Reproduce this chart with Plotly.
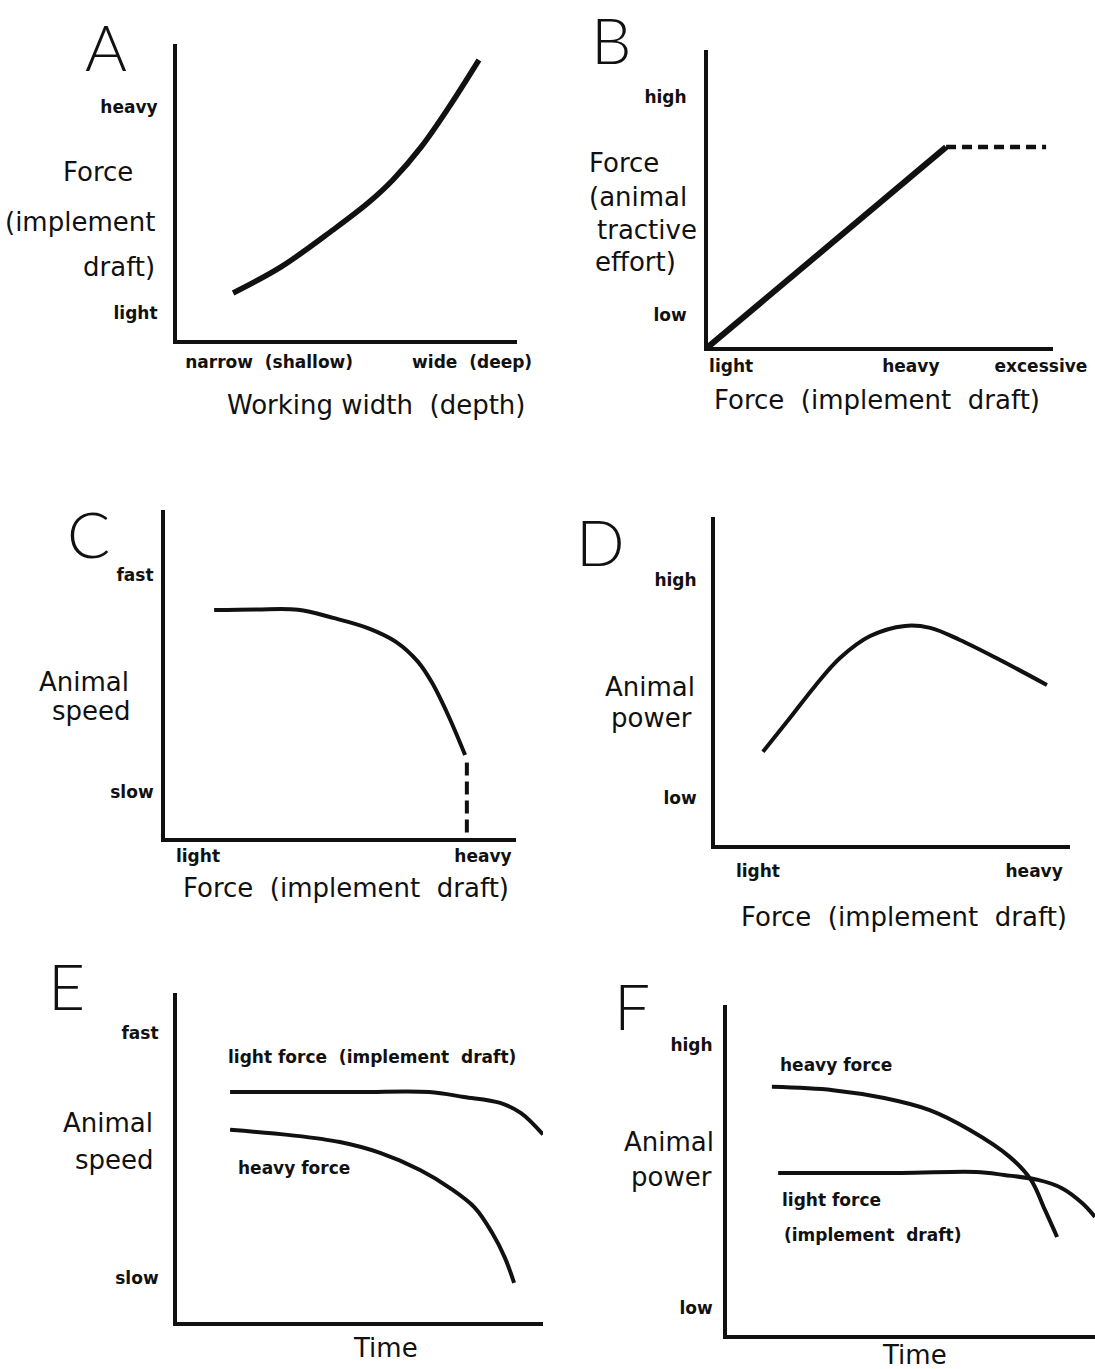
import plotly.graph_objects as go

W, H = 1095, 1369

# ---------------- data (axis units 0..10 on both axes) ----------------
# A: Force (implement draft) vs working width
a_x = [1.65, 3.06, 4.59, 5.62, 6.35, 7.18, 8.0, 8.88]
a_y = [1.59, 2.47, 3.72, 4.63, 5.41, 6.52, 7.87, 9.46]
a_xtick_vals = [2.71, 8.68]
a_xtick_text = ["narrow  (shallow)", "wide  (deep)"]
a_ytick_vals = [0.91, 7.87]
a_ytick_text = ["light", "heavy"]

# B: animal tractive effort vs implement draft
b_x = [0.0, 6.9]
b_y = [0.0, 6.73]
b_dash_x = [6.9, 9.8]
b_dash_y = [6.73, 6.73]
b_xtick_vals = [0.67, 5.88, 9.65]
b_xtick_text = ["light", "heavy", "excessive"]
b_ytick_vals = [1.08, 8.42]
b_ytick_text = ["low", "high"]

# C: animal speed vs implement draft
c_x = [1.4, 2.6, 3.79, 4.79, 5.78, 6.58, 7.21, 7.61, 8.09, 8.55]
c_y = [6.95, 6.97, 6.96, 6.71, 6.4, 5.98, 5.37, 4.73, 3.69, 2.53]
c_dash_x = [8.6, 8.6]
c_dash_y = [2.3, 0.0]
c_xtick_vals = [0.94, 9.06]
c_xtick_text = ["light", "heavy"]
c_ytick_vals = [1.4, 8.02]
c_ytick_text = ["slow", "fast"]

# D: animal power vs implement draft
d_x = [1.35, 2.11, 2.82, 3.52, 4.37, 5.35, 6.06, 6.9, 8.03, 9.35]
d_y = [2.84, 3.87, 4.85, 5.7, 6.37, 6.68, 6.62, 6.25, 5.64, 4.88]
d_xtick_vals = [1.21, 8.99]
d_xtick_text = ["light", "heavy"]
d_ytick_vals = [1.43, 8.08]
d_ytick_text = ["low", "high"]

# E: animal speed vs time
e_light_x = [1.45, 4.92, 6.89, 7.84, 8.83, 9.4, 10.0]
e_light_y = [6.99, 6.99, 6.99, 6.84, 6.66, 6.35, 5.7]
e_heavy_x = [1.45, 3.09, 4.45, 5.55, 6.64, 7.46, 8.14, 8.61, 8.96, 9.21]
e_heavy_y = [5.84, 5.68, 5.47, 5.14, 4.62, 4.07, 3.47, 2.71, 1.95, 1.19]
e_ytick_vals = [1.34, 8.78]
e_ytick_text = ["slow", "fast"]

# F: animal power vs time
f_heavy_x = [1.22, 2.88, 4.27, 5.49, 6.6, 7.69, 8.26, 8.64, 8.97]
f_heavy_y = [7.52, 7.42, 7.18, 6.82, 6.21, 5.39, 4.7, 3.79, 2.97]
f_light_x = [1.39, 4.73, 6.77, 7.53, 8.45, 9.1, 9.65, 10.0]
f_light_y = [4.91, 4.91, 4.94, 4.85, 4.7, 4.45, 4.0, 3.58]
f_ytick_vals = [0.82, 8.79]
f_ytick_text = ["low", "high"]

# ---------------- layout helpers ----------------
FONT = "DejaVu Sans, Verdana, sans-serif"
INK = "#111111"

fig = go.Figure()
layout = dict(
    width=W, height=H, margin=dict(l=0, r=0, t=0, b=0, pad=0), autosize=False,
    paper_bgcolor="white", plot_bgcolor="white", showlegend=False,
    annotations=[],
)


def px(x):
    return x / W


def py(y):
    return 1 - y / H


def add_panel(i, box, xt, yt, xstand, ystand):
    x0, x1, ytop, ybot = box
    sx = "" if i == 1 else str(i)
    tickfont = dict(family=FONT, size=17, color=INK, weight="bold")
    common = dict(range=[0, 10], showline=True, linewidth=4, linecolor=INK,
                  showgrid=False, zeroline=False, ticks="", fixedrange=True,
                  tickfont=tickfont, automargin=False)
    xa = dict(domain=[px(x0), px(x1)], anchor="y" + sx, **common)
    ya = dict(domain=[py(ybot), py(ytop)], anchor="x" + sx, **common)
    if xt is not None:
        xa.update(tickvals=xt[0], ticktext=xt[1], ticklabelstandoff=xstand)
    else:
        xa.update(showticklabels=False)
    if yt is not None:
        ya.update(tickvals=yt[0], ticktext=yt[1], ticklabelstandoff=ystand)
    else:
        ya.update(showticklabels=False)
    layout["xaxis" + sx] = xa
    layout["yaxis" + sx] = ya
    return "x" + sx, "y" + sx


def line(xs, ys, xr, yr, width=4, dash="solid", shape="spline"):
    fig.add_trace(go.Scatter(x=xs, y=ys, xaxis=xr, yaxis=yr, mode="lines",
                             line=dict(color=INK, width=width, dash=dash,
                                       shape=shape, smoothing=1.0),
                             hoverinfo="skip"))


def ann(text, x, y, size=26, bold=False, xanchor="center", xref="paper",
        yref="paper", family=FONT, weight=None):
    if xref == "paper":
        x = px(x)
    if yref == "paper":
        y = py(y)
    f = dict(family=family, size=size, color=INK)
    if bold:
        f["weight"] = "bold"
    if weight is not None:
        f["weight"] = weight
    layout["annotations"].append(dict(text=text, x=x, y=y, xref=xref, yref=yref,
                                      xanchor=xanchor, yanchor="middle",
                                      showarrow=False, font=f))


def letter(t, x, y):
    ann(t, x, y, size=64, family="Lato, Roboto, sans-serif", weight=300)


# Panel A
xa, ya = add_panel(1, (177, 517, 44, 340), (a_xtick_vals, a_xtick_text),
                   (a_ytick_vals, a_ytick_text), 4, 12)
line(a_x, a_y, xa, ya, width=5.5)
letter("A", 106, 46)
ann("Force", 135, 172, xanchor="right")
ann("(implement", 157, 222, xanchor="right")
ann("draft)", 157, 267, xanchor="right")
ann("Working width  (depth)", 376, 405)

# Panel B
xa, ya = add_panel(2, (708, 1053, 50, 347), (b_xtick_vals, b_xtick_text),
                   (b_ytick_vals, b_ytick_text), 1, 14)
line(b_x, b_y, xa, ya, width=6, shape="linear")
line(b_dash_x, b_dash_y, xa, ya, width=4.5, dash="10px,6px", shape="linear")
letter("B", 611, 40)
ann("Force", 587, 163, xanchor="left")
ann("(animal", 587, 197, xanchor="left")
ann("tractive", 595, 230, xanchor="left")
ann("effort)", 593, 262, xanchor="left")
ann("Force  (implement  draft)", 877, 400)

# Panel C
xa, ya = add_panel(3, (165, 516, 510, 838), (c_xtick_vals, c_xtick_text),
                   (c_ytick_vals, c_ytick_text), 0, 4)
line(c_x, c_y, xa, ya, width=4)
line(c_dash_x, c_dash_y, xa, ya, width=4, dash="13px,6px", shape="linear")
letter("C", 88, 534)
ann("Animal", 84, 682)
ann("speed", 91, 711)
ann("Force  (implement  draft)", 346, 888)

# Panel D
xa, ya = add_panel(4, (715, 1070, 517, 845), (d_xtick_vals, d_xtick_text),
                   (d_ytick_vals, d_ytick_text), 8, 11)
line(d_x, d_y, xa, ya, width=4)
letter("D", 600, 541)
ann("Animal", 650, 687)
ann("power", 651, 718)
ann("Force  (implement  draft)", 904, 917)

# Panel E
xa, ya = add_panel(5, (177, 543, 993, 1322), None,
                   (e_ytick_vals, e_ytick_text), 0, 11)
line(e_light_x, e_light_y, xa, ya, width=4)
line(e_heavy_x, e_heavy_y, xa, ya, width=4)
ann("light force  (implement  draft)", 5.33, 8.05, size=17, bold=True,
    xref=xa, yref=ya)
ann("heavy force", 3.2, 4.68, size=17, bold=True, xref=xa, yref=ya)
letter("E", 66, 985)
ann("Animal", 108, 1123)
ann("speed", 114, 1160)
ann("Time", 385, 1348)

# Panel F
xa, ya = add_panel(6, (727, 1095, 1005, 1335), None,
                   (f_ytick_vals, f_ytick_text), 0, 7)
line(f_heavy_x, f_heavy_y, xa, ya, width=4)
line(f_light_x, f_light_y, xa, ya, width=4)
ann("heavy force", 1.39, 8.18, size=17, bold=True, xanchor="left",
    xref=xa, yref=ya)
ann("light force", 1.44, 4.09, size=17, bold=True, xanchor="left",
    xref=xa, yref=ya)
ann("(implement  draft)", 1.5, 3.03, size=17, bold=True, xanchor="left",
    xref=xa, yref=ya)
letter("F", 632, 1005)
ann("Animal", 669, 1142)
ann("power", 671, 1177)
ann("Time", 914, 1355)

fig.update_layout(**layout)

# place the fixed-size figure flush with the page corner (no body margin / scrollbars)
page_fix = ("document.body.style.margin='0';"
            "document.body.style.overflow='hidden';"
            "var gd=document.getElementById('{plot_id}');"
            "Plotly.relayout(gd,{width:%d,height:%d});" % (W, H))
fig.write_html("out.html", config={"responsive": False, "displayModeBar": False},
               post_script=page_fix)
